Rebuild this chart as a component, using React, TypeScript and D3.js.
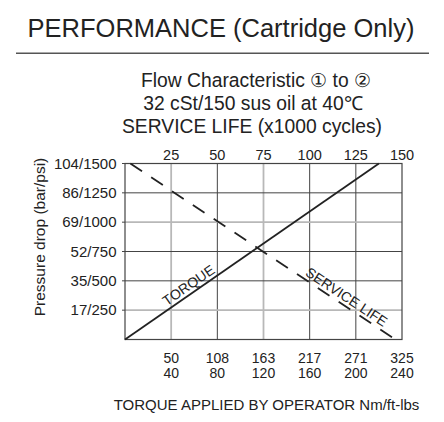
import React from "react";
import * as d3 from "d3";

// ---- data ----
const serviceLifeTicks = [25, 50, 75, 100, 125, 150]; // x1000 cycles (top axis)
const torqueNm = [50, 108, 163, 217, 271, 325]; // bottom axis line 1
const torqueFtLbs = [40, 80, 120, 160, 200, 240]; // bottom axis line 2
const pressurePsi = [250, 500, 750, 1000, 1250, 1500];
const pressureBar = [17, 35, 52, 69, 86, 104];
const lightVertical = [25, 75];
const lightHorizontal = [250, 1000];
// lines in (service-life units, psi)
const torqueLine: [number, number][] = [
  [0, 0],
  [137.5, 1500],
];
const serviceLifeLine: [number, number][] = [
  [2.9, 1500],
  [146.5, 0],
];

const W = 444;
const H = 422;
const FONT = "'Liberation Sans', Arial, Helvetica, sans-serif";
const INK = "#222";

export default function App() {
  const x = d3.scaleLinear().domain([0, 150]).range([125, 402]);
  const y = d3.scaleLinear().domain([0, 1500]).range([339.5, 163.5]);
  const line = d3
    .line<[number, number]>()
    .x((d) => x(d[0]))
    .y((d) => y(d[1]));

  const angleOf = (pts: [number, number][]) => {
    const [a, b] = pts;
    return (Math.atan2(y(b[1]) - y(a[1]), x(b[0]) - x(a[0])) * 180) / Math.PI;
  };
  const pointOn = (pts: [number, number][], xv: number): [number, number] => {
    const [a, b] = pts;
    const t = (xv - a[0]) / (b[0] - a[0]);
    return [x(xv), y(a[1] + t * (b[1] - a[1]))];
  };

  const tAng = angleOf(torqueLine);
  const sAng = angleOf(serviceLifeLine);
  const tPos = pointOn(torqueLine, 37);
  const sPos = pointOn(serviceLifeLine, 117.5);

  const [x0, x1] = x.range();
  const [yb, yt] = y.range();

  return (
    <svg
      width={W}
      height={H}
      style={{ position: "absolute", left: 0, top: 0, background: "#fff" }}
      fontFamily={FONT}
    >
      <rect width={W} height={H} fill="#fff" />
      <text x={221} y={37} textAnchor="middle" fontSize={25.5} fill={INK}>
        PERFORMANCE (Cartridge Only)
      </text>
      <line x1={16} x2={429} y1={53.3} y2={53.3} stroke="#555" strokeWidth={1.5} />

      <g fontSize={19.3} fill={INK} textAnchor="middle">
        <text x={256} y={87}>Flow Characteristic ① to ②</text>
        <text x={253} y={110}>32 cSt/150 sus oil at 40℃</text>
        <text x={252} y={133}>SERVICE LIFE (x1000 cycles)</text>
      </g>

      {/* grid */}
      {serviceLifeTicks.slice(0, 5).map((v) => {
        const light = lightVertical.includes(v);
        return (
          <line
            key={"v" + v}
            x1={x(v)}
            x2={x(v)}
            y1={yt}
            y2={yb}
            stroke={light ? "#b8b8b8" : "#444"}
            strokeWidth={light ? 1.8 : 1}
          />
        );
      })}
      {pressurePsi.slice(0, 5).map((v) => {
        const light = lightHorizontal.includes(v);
        return (
          <line
            key={"h" + v}
            x1={x0}
            x2={x1}
            y1={y(v)}
            y2={y(v)}
            stroke={light ? "#b8b8b8" : "#444"}
            strokeWidth={light ? 1.8 : 1}
          />
        );
      })}
      <rect x={x0} y={yt} width={x1 - x0} height={yb - yt} fill="none" stroke="#444" strokeWidth={1.2} />
      {pressurePsi.map((v) => (
        <line key={"t" + v} x1={x0 - 3} x2={x0} y1={y(v)} y2={y(v)} stroke="#444" strokeWidth={1} />
      ))}

      {/* top axis labels */}
      <g fontSize={14.5} fill={INK} textAnchor="middle">
        {serviceLifeTicks.map((v) => (
          <text key={"st" + v} x={x(v)} y={159.5}>
            {v}
          </text>
        ))}
      </g>
      {/* left axis labels */}
      <g fontSize={15} fill={INK} textAnchor="end">
        {pressurePsi.map((v, i) => (
          <text key={"pl" + v} x={116.5} y={y(v) + 5}>
            {pressureBar[i]}/{v}
          </text>
        ))}
      </g>
      {/* bottom axis labels */}
      <g fontSize={14} fill={INK} textAnchor="middle">
        {serviceLifeTicks.map((v, i) => (
          <g key={"bt" + v}>
            <text x={x(v)} y={363}>
              {torqueNm[i]}
            </text>
            <text x={x(v)} y={378}>
              {torqueFtLbs[i]}
            </text>
          </g>
        ))}
      </g>
      <text x={266.5} y={410} textAnchor="middle" fontSize={15} fill={INK}>
        TORQUE APPLIED BY OPERATOR Nm/ft-lbs
      </text>
      <text
        transform="translate(45,237) rotate(-90)"
        textAnchor="middle"
        fontSize={15.5}
        fill={INK}
      >
        Pressure drop (bar/psi)
      </text>

      {/* lines */}
      <path d={line(torqueLine) || ""} fill="none" stroke={INK} strokeWidth={1.8} />
      <path
        d={line(serviceLifeLine) || ""}
        fill="none"
        stroke={INK}
        strokeWidth={1.8}
        strokeDasharray="14,11"
      />
      <text
        transform={`translate(${tPos[0]},${tPos[1]}) rotate(${tAng}) translate(0,-3.5)`}
        textAnchor="middle"
        fontSize={14}
        fill={INK}
      >
        TORQUE
      </text>
      <text
        transform={`translate(${sPos[0]},${sPos[1]}) rotate(${sAng}) translate(0,-3.5)`}
        textAnchor="middle"
        fontSize={14}
        fill={INK}
      >
        SERVICE LIFE
      </text>
    </svg>
  );
}
